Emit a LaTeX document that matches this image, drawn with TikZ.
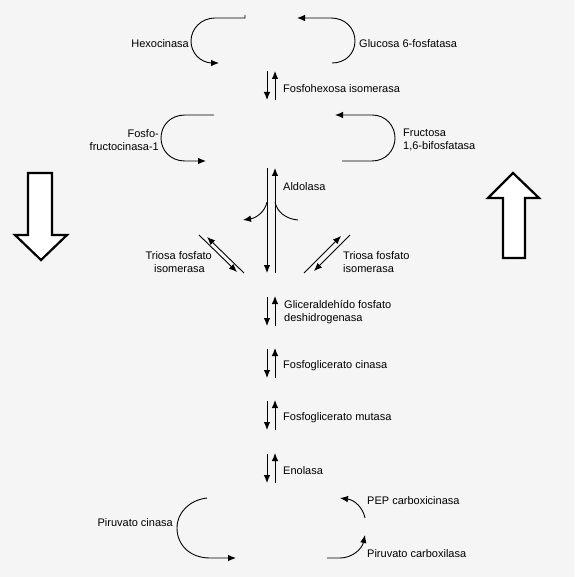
\documentclass[tikz,border=0pt]{standalone}
\usepackage{fontspec}
\setmainfont{Liberation Sans}
\usetikzlibrary{arrows.meta}
\definecolor{bg}{RGB}{245,245,245}
\begin{document}
\begin{tikzpicture}[x=1pt,y=-1pt,
  conn/.style={line width=0.9pt,draw=black},
  arr/.style={conn,-{Latex[length=8pt,width=6.5pt]}},
  lab/.style={font=\fontsize{11}{13}\selectfont,inner sep=0pt,text=black},
  labl/.style={lab,anchor=west},
  labr/.style={lab,anchor=east},
  big/.style={line width=2.2pt,draw=black,fill=white,line join=miter}]
\fill[bg] (0,0) rectangle (574,577);
\useasboundingbox (0,0) rectangle (574,577);

% Hexocinasa
\draw[arr] (245,15) -- (245,18) -- (215,18) .. controls (201,18) and (191,29) .. (191,41)
  .. controls (191,53) and (200,62) .. (211,63) -- (219,63);
\node[labr] (hexo) at (189,44) {Hexocinasa};
% Glucosa 6-fosfatasa
\draw[arr] (332,63) .. controls (346,63) and (355,53) .. (355,41)
  .. controls (355,28) and (345,18) .. (331,18) -- (297,18);
\node[labl] (g6p) at (359,44) {Glucosa 6-fosfatasa};

% Fosfohexosa isomerasa
\draw[arr] (267,71) -- (267,100);
\draw[arr] (275,100) -- (275,71);
\node[labl] (fhi) at (283,89) {Fosfohexosa isomerasa};

% Fosfofructocinasa-1
\draw[arr] (214,115) -- (185,115) .. controls (170,115) and (161,126) .. (161,138)
  .. controls (161,150) and (170,161) .. (185,161) -- (206,161);
\node[labr,align=right] (pfk) at (159,140) {Fosfo-\\fructocinasa-1};
% Fructosa 1,6-bifosfatasa
\draw[arr] (342,161) -- (372,161) .. controls (386,161) and (395,150) .. (395,138)
  .. controls (395,126) and (386,115) .. (372,115) -- (335,115);
\node[labl,align=left] (fbp) at (403,140) {Fructosa\\1,6-bifosfatasa};

% Aldolasa
\draw[arr] (267,168) -- (267,273);
\draw[arr] (275,273) -- (275,168);
\node[labl] (ald) at (283,187) {Aldolasa};
\draw[arr] (267,202) .. controls (265,212) and (256,218) .. (243,220);
\draw[conn] (275,202) .. controls (277,212) and (286,219) .. (298,220);

% Triosa fosfato isomerasa (left)
\draw[arr] (199,235) -- (237,272);
\draw[arr] (244,273) -- (207,237);
\node[labr] (tpi1a) at (212,256) {Triosa fosfato};
\node[labr] (tpi1b) at (205,269) {isomerasa};
% Triosa fosfato isomerasa (right)
\draw[arr] (304,273) -- (341,236);
\draw[arr] (350,235) -- (314,271);
\node[labl] (tpi2a) at (343,256) {Triosa fosfato};
\node[labl] (tpi2b) at (343,269) {isomerasa};

% Big arrows
\draw[big] (28,173) -- (52,173) -- (52,235) -- (67,235) -- (41,260) -- (15,235) -- (28,235) -- cycle;
\draw[big] (503,258) -- (525,258) -- (525,198) -- (539,198) -- (513,173) -- (488,198) -- (503,198) -- cycle;

% Gliceraldehido fosfato deshidrogenasa
\draw[arr] (267,297) -- (267,326);
\draw[arr] (275,326) -- (275,296);
\node[labl,align=left] (gapdh) at (284,312.5) {Gliceraldehído fosfato\\deshidrogenasa};

% Fosfoglicerato cinasa
\draw[arr] (267,349) -- (267,378);
\draw[arr] (275,378) -- (275,348);
\node[labl] (pgk) at (283,366) {Fosfoglicerato cinasa};

% Fosfoglicerato mutasa
\draw[arr] (267,401) -- (267,430);
\draw[arr] (275,430) -- (275,400);
\node[labl] (pgm) at (283,418) {Fosfoglicerato mutasa};

% Enolasa
\draw[arr] (267,454) -- (267,483);
\draw[arr] (275,483) -- (275,453);
\node[labl] (eno) at (283,471) {Enolasa};

% Piruvato cinasa
\draw[arr] (207,498) .. controls (190,500) and (177,512) .. (177,528)
  .. controls (177,545) and (190,558) .. (210,558) -- (236,558);
\node[labr] (pk) at (173,523) {Piruvato cinasa};

% PEP carboxicinasa
\draw[arr] (365,518) .. controls (363,508) and (355,500) .. (340,498);
\node[labl] (pepck) at (367,501) {PEP carboxicinasa};

% Piruvato carboxilasa
\draw[arr] (327,558) -- (340,558) .. controls (352,558) and (362,549) .. (365,535);
\node[labl] (pc) at (367,554) {Piruvato carboxilasa};
\end{tikzpicture}
\end{document}
